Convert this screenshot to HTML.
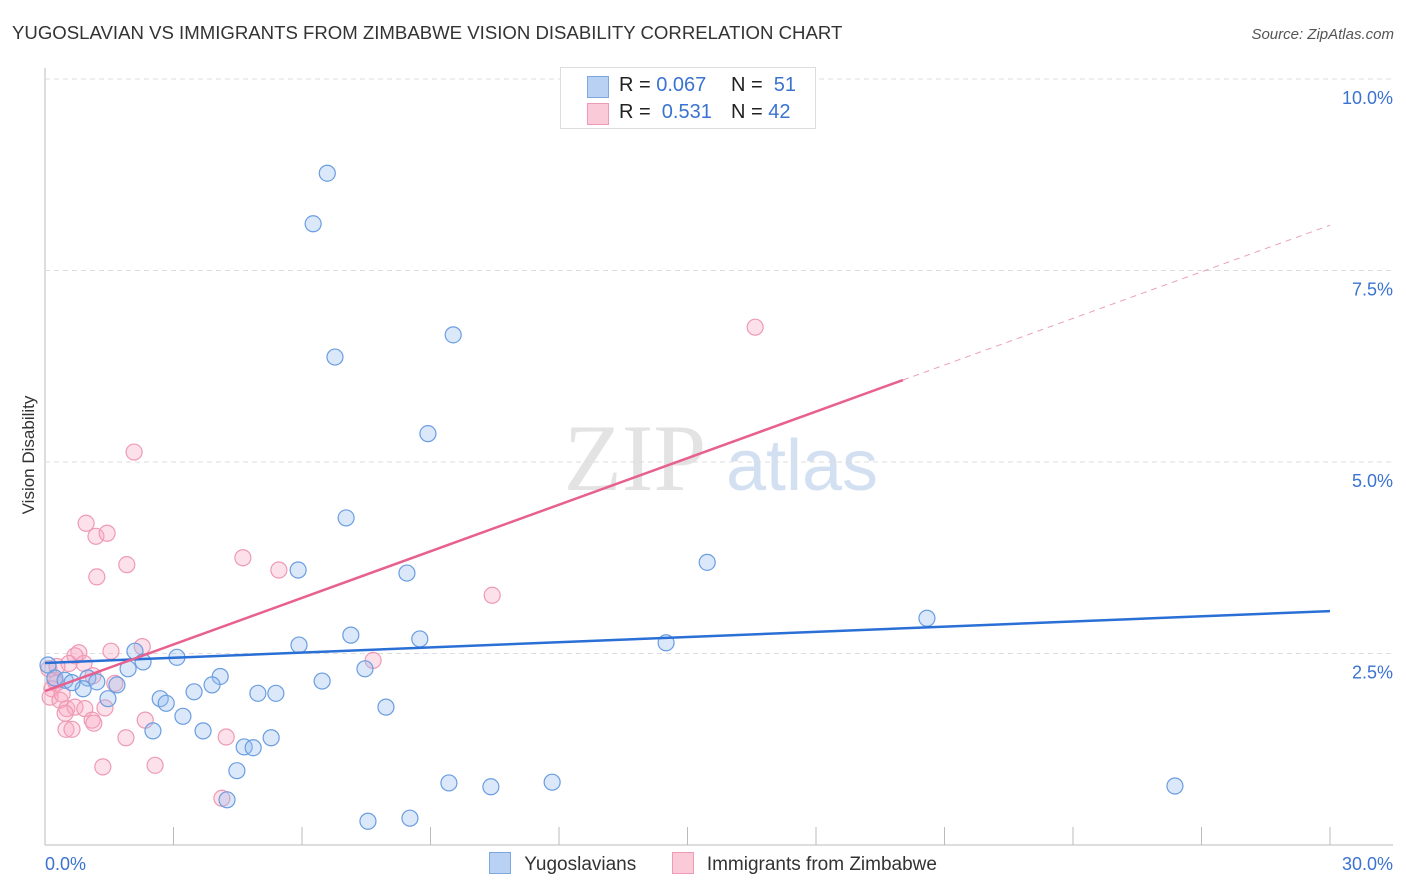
<!DOCTYPE html>
<html><head><meta charset="utf-8">
<style>
body{margin:0;background:#fff;font-family:"Liberation Sans",sans-serif;}
#wrap{position:relative;width:1406px;height:892px;overflow:hidden;}
</style></head>
<body>
<div id="wrap">
<svg id="chart" width="1406" height="892" xmlns="http://www.w3.org/2000/svg">
<text x="12" y="39" font-size="18.6" fill="#333">YUGOSLAVIAN VS IMMIGRANTS FROM ZIMBABWE VISION DISABILITY CORRELATION CHART</text>
<text x="1394" y="39" font-size="15" fill="#555" font-style="italic" text-anchor="end">Source: ZipAtlas.com</text>
<text x="34" y="455" font-size="17" fill="#333" text-anchor="middle" transform="rotate(-90 34 455)">Vision Disability</text>
<g>
<text x="635" y="490" font-size="95" fill="#ddd" font-family="Liberation Serif,serif" text-anchor="middle" opacity="0.8">ZIP</text>
<text x="802" y="490" font-size="72" fill="#c9d9f0" text-anchor="middle" opacity="0.8">atlas</text>
</g>
<g id="grid"></g><g id="marks"></g>
</svg>
<div style="position:absolute;left:560px;top:67px;width:256px;height:62px;border:1px solid #ddd;background:#fff;box-sizing:border-box;font-size:20px;">
<div style="position:absolute;left:26px;top:8px;width:20px;height:20px;background:#b9d1f3;border:1px solid #7ea6e0;"></div>
<div style="position:absolute;left:58px;top:6px;color:#222;">R = <span style="color:#3a73d0">0.067</span></div>
<div style="position:absolute;left:170px;top:6px;color:#222;">N = &nbsp;<span style="color:#3a73d0">51</span></div>
<div style="position:absolute;left:26px;top:35px;width:20px;height:20px;background:#fbcad8;border:1px solid #f09ab5;"></div>
<div style="position:absolute;left:58px;top:33px;color:#222;">R = &nbsp;<span style="color:#3a73d0">0.531</span></div>
<div style="position:absolute;left:170px;top:33px;color:#222;">N = <span style="color:#3a73d0">42</span></div>
</div>
<div style="position:absolute;left:489px;top:852px;font-size:19px;color:#333;">
<span style="display:inline-block;width:20px;height:20px;background:#b9d1f3;border:1px solid #7ea6e0;vertical-align:-4px;"></span>
<span style="margin-left:8px">Yugoslavians</span>
<span style="display:inline-block;width:20px;height:20px;background:#fbcad8;border:1px solid #f09ab5;vertical-align:-4px;margin-left:30px;"></span>
<span style="margin-left:8px">Immigrants from Zimbabwe</span>
</div>
</div>
<script>
const yTicks=[2.5,5.0,7.5,10.0];
const yTickLabels=["2.5%","5.0%","7.5%","10.0%"];
const xTicks=[0,3,6,9,12,15,18,21,24,27,30];
const blueX=[6.59,6.26,6.77,9.53,8.94,7.03,5.91,8.45,15.46,20.59,5.93,7.14,8.75,14.50,2.10,2.29,3.08,4.09,3.90,6.47,7.47,0.07,0.23,0.47,1.00,1.21,0.89,1.68,1.94,1.47,2.69,2.83,3.48,4.97,5.39,7.96,3.22,2.52,3.69,5.28,4.65,4.86,4.48,4.25,9.43,10.41,11.84,26.38,7.54,8.52,0.63];
const blueY=[8.77,8.11,6.37,6.66,5.37,4.27,3.59,3.55,3.69,2.96,2.61,2.74,2.69,2.64,2.53,2.39,2.45,2.20,2.09,2.14,2.30,2.35,2.18,2.15,2.18,2.13,2.04,2.09,2.30,1.91,1.91,1.85,2.00,1.98,1.98,1.80,1.68,1.49,1.49,1.40,1.28,1.27,0.97,0.59,0.81,0.76,0.82,0.77,0.31,0.35,2.12];
const pinkX=[2.08,0.96,1.19,1.45,1.91,1.21,4.62,5.46,16.58,10.44,7.66,2.27,1.54,0.79,0.70,0.91,0.56,0.28,0.09,1.12,0.26,0.16,1.63,0.12,0.35,0.51,0.70,0.93,1.40,0.47,1.10,1.14,2.34,0.49,0.63,1.89,4.23,1.35,2.57,4.13,0.23,0.40];
const pinkY=[5.13,4.20,4.03,4.07,3.66,3.50,3.75,3.59,6.76,3.26,2.41,2.59,2.53,2.51,2.47,2.37,2.37,2.33,2.30,2.21,2.11,2.04,2.11,1.93,1.89,1.78,1.80,1.78,1.79,1.72,1.63,1.59,1.63,1.51,1.51,1.40,1.41,1.02,1.04,0.61,2.15,1.97];
const blueLine=[2.376,0.0226];
const pinkLine=[2.01,0.2027];
const pinkSolidEnd=20.03;
const NS="http://www.w3.org/2000/svg";
const X0=45,X1=1330,Y0=845,PXX=(X1-X0)/30,PXY=76.6;
function sx(v){return X0+v*PXX;}
function sy(v){return Y0-v*PXY;}
function mk(t,a,p){const e=document.createElementNS(NS,t);for(const k in a)e.setAttribute(k,a[k]);p.appendChild(e);return e;}
const grid=document.getElementById('grid'),marks=document.getElementById('marks');
let ax=mk('line',{x1:X0,y1:68,x2:X0,y2:Y0,stroke:'#bbb','stroke-width':1},grid);


let bx=mk('line',{x1:X0,y1:Y0,x2:1393,y2:Y0,stroke:'#bbb','stroke-width':1},grid);


yTicks.forEach((v,i)=>{
 const g=mk('line',{x1:X0,y1:sy(v),x2:1393,y2:sy(v),stroke:'#ddd','stroke-dasharray':'5,4'},grid);
 
 
 const t=mk('text',{x:1393,y:sy(v)+25,'font-size':18,fill:'#3a73d0','text-anchor':'end'},grid);
 t.textContent=yTickLabels[i];
 
 
});
xTicks.forEach(v=>{
 const l=mk('line',{x1:sx(v),y1:827,x2:sx(v),y2:Y0,stroke:'#bbb'},grid);
 
 
});
[[0,'0.0%','start',45],[30,'30.0%','end',1393]].forEach(a=>{
 const t=mk('text',{x:a[3],y:870,'font-size':18,fill:'#3a73d0','text-anchor':a[2]},grid);
 t.textContent=a[1];
 
 
});
pinkX.forEach((x,i)=>{
 const c=mk('circle',{cx:sx(x),cy:sy(pinkY[i]),r:8,fill:'rgba(248,170,195,0.35)',stroke:'#ee9ab4','stroke-width':1.2},marks);
 
 
});
blueX.forEach((x,i)=>{
 const c=mk('circle',{cx:sx(x),cy:sy(blueY[i]),r:8,fill:'rgba(150,190,240,0.35)',stroke:'#6a9de0','stroke-width':1.2},marks);
 
 
});
let bl=mk('line',{x1:sx(0),y1:sy(blueLine[0]),x2:sx(30),y2:sy(blueLine[0]+blueLine[1]*30),stroke:'#2a6fd6','stroke-width':2.5},marks);


let pl=mk('line',{x1:sx(0),y1:sy(pinkLine[0]),x2:sx(pinkSolidEnd),y2:sy(pinkLine[0]+pinkLine[1]*pinkSolidEnd),stroke:'#e8608e','stroke-width':2.5},marks);


let pd=mk('line',{x1:sx(pinkSolidEnd),y1:sy(pinkLine[0]+pinkLine[1]*pinkSolidEnd),x2:sx(30),y2:sy(pinkLine[0]+pinkLine[1]*30),stroke:'#eaa0b8','stroke-width':1,'stroke-dasharray':'6,5'},marks);


</script>
</body></html>
